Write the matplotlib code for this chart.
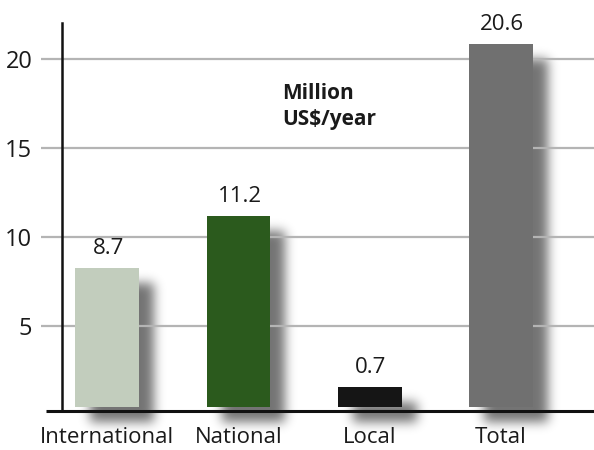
import numpy as np
import matplotlib.pyplot as plt
from matplotlib.transforms import blended_transform_factory

# data
categories = ['International', 'National', 'Local', 'Total']
bar_tops = [8.28, 11.2, 1.59, 20.86]       # drawn heights
value_labels = ['8.7', '11.2', '0.7', '20.6']  # printed values
bar_colors = ['#c2cdbd', '#2b5a1d', '#151515', '#707070']
yticks = [5, 10, 15, 20]

W, H = 594, 450
YMIN, YMAX = 0.24, 22.06
BASE = 0.46  # bars sit slightly above the baseline


def gauss_blur(a, sigma):
    r = int(3 * sigma)
    k = np.exp(-0.5 * (np.arange(-r, r + 1) / sigma) ** 2)
    k /= k.sum()
    a = np.apply_along_axis(lambda v: np.convolve(v, k, mode='same'), 0, a)
    a = np.apply_along_axis(lambda v: np.convolve(v, k, mode='same'), 1, a)
    return a


def main():
    plt.rcParams['font.family'] = ['Open Sans', 'DejaVu Sans']
    fig = plt.figure(figsize=(W / 100, H / 100), dpi=100)
    fig.patch.set_facecolor('white')

    # background axes for the drop shadows
    bg = fig.add_axes([0, 0, 1, 1], zorder=0)
    bg.set_xlim(0, W)
    bg.set_ylim(0, H)
    bg.axis('off')

    ax = fig.add_axes([61.5 / W, 1 - 410.7 / H, 1 - 61.5 / W, (410.7 - 22.7) / H],
                      zorder=1)
    ax.patch.set_alpha(0)
    x = np.arange(len(categories))
    ax.set_xlim(-0.35, 3.71)
    ax.set_ylim(YMIN, YMAX)

    heights = [t - BASE for t in bar_tops]
    bars = ax.bar(x, heights, bottom=BASE, width=0.487, color=bar_colors, zorder=3)

    # shadows, built from the bars' own pixel boxes
    mask = np.zeros((H, W))
    for b in bars:
        (x0, y0), (x1, y1) = ax.transData.transform(
            [(b.get_x(), b.get_y()), (b.get_x() + b.get_width(), b.get_y() + b.get_height())])
        dx, dy = 15, -15
        c0, c1 = int(round(x0 + dx)), int(round(x1 + dx))
        r0, r1 = int(round(y0 + dy)), int(round(y1 + dy))
        mask[max(r0, 0):r1, c0:c1] = 1.0
    mask = gauss_blur(mask, 5.5)
    img = np.zeros((H, W, 4))
    img[..., 3] = mask * 0.55
    bg.imshow(img, origin='lower', extent=[0, W, 0, H], aspect='auto',
              interpolation='bilinear')

    # grid and axes lines
    for yv in yticks:
        ax.axhline(yv, color='#b4b4b4', lw=1.6, zorder=2)
    ax.set_yticks(yticks)
    ax.set_yticklabels([str(v) for v in yticks], fontsize=17, color='#1a1a1a')
    ax.tick_params(axis='y', length=15, width=1.6, color='#b4b4b4', pad=6)
    ax.set_xticks(x)
    ax.set_xticklabels(categories, fontsize=16, color='#1a1a1a')
    ax.tick_params(axis='x', length=0, pad=12)

    for s in ['top', 'right', 'bottom']:
        ax.spines[s].set_visible(False)
    ax.spines['left'].set_linewidth(1.8)
    ax.spines['left'].set_color('#111111')

    tr = blended_transform_factory(ax.transAxes, ax.transData)
    ax.plot([-15.5 / (W - 61.5), 1], [YMIN, YMIN], transform=tr, color='#111111',
            lw=2.2, clip_on=False, zorder=4, solid_capstyle='butt')

    # value labels
    for xi, top, lab in zip(x, bar_tops, value_labels):
        ax.text(xi + 0.01, top + 0.5, lab, ha='center', va='bottom', fontsize=16,
                color='#1a1a1a', zorder=5)

    ax.text(1.33, 17.35, 'Million\nUS$/year', ha='left', va='center', fontsize=15,
            fontweight='bold', color='#1a1a1a', linespacing=1.3, zorder=5)

    fig.savefig('out.png', dpi=100, facecolor='white')


if __name__ == '__main__':
    main()
